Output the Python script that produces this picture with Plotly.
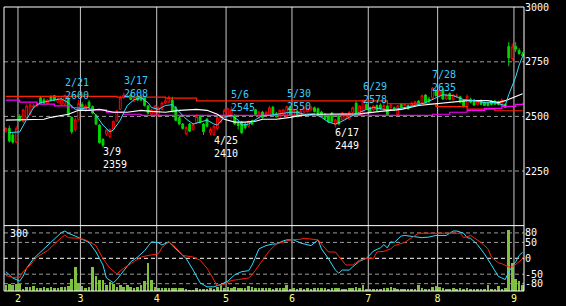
import plotly.graph_objects as go

# ---------------- data ----------------
day = list(range(150))

open_ = [2432,2445,2415,2382,2500,2478,2495,2510,2540,2548,
         2585,2575,2560,2592,2595,2565,2555,2556,2580,2495,
         2440,2485,2555,2530,2565,2545,2505,2460,2395,2420,
         2408,2442,2478,2532,2588,2592,2598,2570,2592,2590,
         2585,2548,2510,2505,2510,2532,2562,2565,2575,2540,
         2495,2465,2420,2465,2440,2470,2500,2465,2488,2425,
         2418,2445,2475,2500,2500,2510,2505,2470,2474,2465,
         2455,2480,2530,2495,2520,2505,2510,2542,2512,2490,
         2508,2500,2545,2505,2525,2505,2520,2522,2530,2540,
         2535,2520,2510,2500,2515,2462,2505,2485,2490,2488,
         2518,2560,2508,2512,2555,2540,2530,2550,2552,2535,
         2548,2540,2540,2508,2555,2550,2550,2550,2552,2570,
         2562,2598,2580,2585,2615,2595,2622,2580,2605,2578,
         2590,2590,2572,2545,2578,2575,2555,2572,2562,2562,
         2570,2570,2568,2550,2555,2820,2765,2820,2802,2785]

high = [2450,2458,2425,2455,2510,2535,2555,2560,2558,2565,
        2590,2585,2580,2596,2598,2585,2590,2600,2590,2500,
        2495,2575,2565,2555,2575,2550,2510,2465,2400,2445,
        2445,2480,2530,2595,2608,2605,2605,2595,2600,2598,
        2592,2552,2535,2552,2545,2568,2580,2595,2590,2548,
        2500,2470,2455,2470,2470,2510,2505,2470,2492,2450,
        2460,2500,2505,2535,2540,2545,2510,2475,2478,2470,
        2480,2485,2535,2525,2525,2525,2548,2548,2520,2532,
        2535,2550,2548,2535,2530,2530,2545,2540,2548,2545,
        2540,2525,2515,2505,2520,2490,2510,2520,2515,2525,
        2545,2570,2552,2578,2560,2545,2552,2555,2560,2562,
        2555,2560,2545,2552,2560,2560,2555,2568,2572,2575,
        2600,2602,2590,2635,2625,2628,2630,2605,2610,2602,
        2605,2595,2578,2600,2585,2580,2575,2578,2568,2566,
        2575,2575,2572,2582,2560,2840,2835,2840,2812,2795]

low = [2425,2380,2375,2378,2475,2470,2490,2505,2535,2545,
       2555,2555,2555,2570,2570,2560,2550,2550,2500,2420,
       2430,2480,2525,2520,2540,2510,2460,2375,2359,2410,
       2400,2438,2475,2530,2580,2585,2575,2565,2570,2570,
       2545,2510,2505,2500,2500,2528,2555,2560,2518,2478,
       2460,2440,2415,2428,2435,2465,2468,2415,2450,2415,
       2410,2435,2470,2495,2495,2490,2462,2440,2420,2440,
       2450,2460,2505,2490,2490,2500,2505,2505,2495,2485,
       2505,2495,2505,2500,2495,2500,2515,2518,2525,2518,
       2500,2500,2485,2470,2470,2449,2462,2480,2485,2485,
       2512,2508,2505,2508,2530,2515,2525,2525,2530,2530,
       2505,2535,2525,2505,2538,2545,2530,2545,2548,2555,
       2558,2560,2560,2580,2590,2590,2575,2575,2575,2572,
       2585,2560,2540,2540,2560,2548,2550,2552,2548,2545,
       2550,2552,2550,2545,2538,2730,2755,2795,2782,2772]

close = [2445,2388,2382,2445,2480,2530,2548,2552,2550,2556,
         2560,2562,2575,2572,2575,2580,2578,2596,2505,2430,
         2485,2560,2530,2548,2545,2515,2465,2380,2368,2438,
         2440,2478,2525,2585,2598,2595,2578,2590,2575,2575,
         2550,2515,2530,2548,2540,2562,2572,2588,2522,2482,
         2465,2445,2450,2432,2462,2500,2472,2430,2455,2440,
         2455,2495,2500,2528,2535,2530,2465,2458,2425,2448,
         2478,2465,2510,2520,2495,2518,2540,2508,2498,2528,
         2530,2545,2508,2530,2500,2525,2540,2535,2542,2522,
         2505,2505,2488,2475,2475,2485,2465,2515,2510,2518,
         2540,2512,2548,2572,2535,2520,2548,2528,2535,2550,
         2508,2552,2528,2548,2542,2556,2535,2562,2568,2558,
         2595,2565,2570,2630,2595,2620,2580,2598,2578,2598,
         2596,2565,2545,2592,2565,2552,2570,2555,2550,2550,
         2555,2556,2555,2575,2542,2768,2818,2808,2788,2778]

volume = [30,35,32,35,39,11,23,23,26,18,
          15,20,18,23,15,16,20,23,26,64,
          122,44,26,18,20,122,80,56,56,31,
          48,39,23,31,23,31,23,15,23,31,
          51,143,59,23,18,18,18,15,18,18,
          15,15,11,7,7,15,11,11,11,15,
          11,23,31,15,20,15,23,18,15,18,
          25,20,15,18,15,15,15,11,15,15,
          15,31,11,15,11,15,11,15,11,15,
          15,15,15,11,15,15,15,11,11,15,
          18,23,15,31,11,11,10,10,11,15,
          18,23,15,11,11,10,10,10,11,34,
          18,11,10,23,26,20,15,11,11,18,
          10,15,10,15,10,10,10,10,10,34,
          11,10,26,11,15,310,143,64,53,30]

# moving averages
ma5_day = [1,4,6,8,10,13,15,16,18,20,22,24,26,28,30,31,33,35,37,39,41,42,44,46,48,50,52,54,56,58,
           60,61,63,65,67,68,70,72,74,76,78,80,82,84,86,89,91,93,95,97,99,102,104,106,109,112,115,118,121,124,
           126,129,132,135,138,141,144,145,146,147,148,149]
ma5_val = [2426,2429,2487,2541,2563,2572,2577,2581,2563,2532,2536,2541,2505,2460,2429,2438,2483,2550,2577,2586,
           2563,2541,2532,2550,2554,2519,2488,2465,2474,2483,2465,2460,2497,2505,2483,2460,2465,2487,2505,2505,
           2510,2512,2519,2519,2510,2512,2496,2474,2465,2478,2496,2519,2532,2541,2532,2532,2541,2550,2563,2586,
           2599,2595,2577,2572,2563,2563,2550,2600,2640,2680,2735,2775]

ma25_day = [0,3,6,11,13,16,18,21,24,27,31,35,39,42,46,50,53,55,58,61,63,66,69,72,74,78,82,85,89,97,
            102,108,114,119,125,129,133,139,142,144,146,149]
ma25_val = [2483,2485,2487,2487,2496,2505,2510,2528,2528,2532,2519,2519,2528,2523,2519,2528,2532,2532,2528,2510,
            2487,2474,2474,2478,2487,2487,2496,2505,2510,2510,2512,2523,2532,2550,2559,2568,2572,2572,2563,2572,
            2586,2604]

mag_day = [0,4,9,14,19,24,29,34,39,123,128,133,138,143,147,149]
mag_val = [2575,2565,2556,2548,2540,2530,2520,2510,2505,2510,2519,2528,2537,2546,2555,2560]

redma_day = [0,32,46,55,110,124,133,141,149]
redma_val = [2592,2588,2584,2571,2558,2545,2533,2526,2526]

# oscillator lines (lower panel)
oc_day = [0,2,4,5,6,8,11,13,15,16,17,18,20,22,24,26,28,29,31,32,34,36,38,40,42,44,45,47,48,50,
          52,54,56,58,60,62,64,66,68,70,71,73,75,77,78,80,81,83,85,88,90,91,93,95,96,97,99,100,102,104,
          106,108,109,110,111,112,114,115,117,120,122,124,127,129,130,132,133,134,136,138,140,142,143,144,145,
          147,148,149]
oc_val = [-42,-62,-72,-56,-31,-1,30,51,70,81,86,79,70,59,50,20,-21,-62,-77,-67,-37,-11,4,24,52,49,42,52,40,20,
          -1,-37,-77,-90,-90,-82,-72,-52,-42,-39,-21,30,40,45,45,55,58,58,48,40,58,30,-1,-37,-47,-37,-37,-27,-9,0,
          23,33,43,33,52,50,70,72,70,65,67,72,72,86,86,79,65,63,43,14,-21,-57,-62,-67,-42,-11,9,19]

or_day = [0,2,4,5,7,9,12,14,16,17,18,21,23,26,28,30,32,34,37,39,41,44,45,47,49,51,54,56,58,60,
          61,63,65,67,70,71,74,76,78,80,82,85,86,90,93,95,97,98,100,102,104,106,107,109,111,112,115,117,119,122,
          127,129,131,132,134,137,139,140,142,143,145,146,148,149]
or_val = [-54,-60,-60,-42,-21,4,24,45,65,73,65,63,58,40,-1,-31,-49,-31,-11,4,9,14,34,52,34,9,4,-6,-31,-67,
          -87,-82,-70,-67,-62,-52,-6,24,45,52,58,60,63,58,20,20,-6,-21,-21,-6,0,0,20,22,30,40,50,65,79,79,
          80,79,79,65,72,50,30,4,-14,-17,-27,-27,-11,0]

month_start = [4, 22, 44, 64, 83, 105, 125, 147]
month_label = ["2", "3", "4", "5", "6", "7", "8", "9"]

hi_day = [17, 34, 65, 81, 103, 123]
hi_date = ["2/21", "3/17", "5/6", "5/30", "6/29", "7/28"]
hi_price = [2600, 2608, 2545, 2550, 2578, 2635]

lo_day = [28, 60, 95]
lo_date = ["3/9", "4/25", "6/17"]
lo_price = [2359, 2410, 2449]

price_ticks = [2250, 2500, 2750, 3000]
osc_ticks = [80, 50, 0, -50, -80]
vol_label = "300"

# ---------------- figure ----------------
MONO = "DejaVu Sans Mono"
split = 67 / 291

fig = go.Figure()

fig.add_trace(go.Bar(x=day, y=volume, marker=dict(color="#80c040", line=dict(width=0)),
                     width=0.75, xaxis="x", yaxis="y2", hoverinfo="skip"))
fig.add_trace(go.Scatter(x=oc_day, y=oc_val, mode="lines", line=dict(color="#33ddff", width=1),
                         xaxis="x", yaxis="y3", hoverinfo="skip"))
fig.add_trace(go.Scatter(x=or_day, y=or_val, mode="lines", line=dict(color="#ff2200", width=1),
                         xaxis="x", yaxis="y3", hoverinfo="skip"))

fig.add_trace(go.Candlestick(x=day, open=open_, high=high, low=low, close=close,
                             increasing=dict(line=dict(color="#ff0000", width=1), fillcolor="#000000"),
                             decreasing=dict(line=dict(color="#00d800", width=1), fillcolor="#00d800"),
                             whiskerwidth=0, xaxis="x", yaxis="y", hoverinfo="skip"))

fig.add_trace(go.Scatter(x=redma_day, y=redma_val, mode="lines", line=dict(color="#ff2200", width=1.2, shape="hv"),
                         xaxis="x", yaxis="y", hoverinfo="skip"))
fig.add_trace(go.Scatter(x=mag_day, y=mag_val, mode="lines", line=dict(color="#ff00ff", width=1.2, shape="hv"),
                         xaxis="x", yaxis="y", hoverinfo="skip"))
fig.add_trace(go.Scatter(x=ma25_day, y=ma25_val, mode="lines", line=dict(color="#ffffff", width=1.2),
                         xaxis="x", yaxis="y", hoverinfo="skip"))
fig.add_trace(go.Scatter(x=ma5_day, y=ma5_val, mode="lines", line=dict(color="#33ddff", width=1),
                         xaxis="x", yaxis="y", hoverinfo="skip"))

shapes = []
for m in month_start:
    shapes.append(dict(type="line", xref="x", yref="paper", x0=m - 0.5, x1=m - 0.5, y0=0, y1=1,
                       line=dict(color="#c8c8c8", width=1), layer="below"))
for p in price_ticks[:-1]:
    shapes.append(dict(type="line", xref="paper", yref="y", x0=0, x1=1, y0=p, y1=p,
                       line=dict(color="#9a9a9a", width=1, dash="4px,3px"), layer="below"))
for v in osc_ticks:
    shapes.append(dict(type="line", xref="paper", yref="y3", x0=0, x1=1, y0=v, y1=v,
                       line=dict(color="#ffffff" if v == 0 else "#9a9a9a", width=1, dash="4px,3px"),
                       layer="below"))
shapes.append(dict(type="rect", xref="paper", yref="paper", x0=0, x1=1, y0=0, y1=1,
                   line=dict(color="#ffffff", width=1)))
shapes.append(dict(type="line", xref="paper", yref="paper", x0=0, x1=1, y0=split, y1=split,
                   line=dict(color="#ffffff", width=1)))

ann = []
for d, t, p in zip(hi_day, hi_date, hi_price):
    ann.append(dict(x=d, y=p, xref="x", yref="y", text=t + "<br>" + str(p), showarrow=False,
                    xanchor="left", yanchor="middle", align="left", xshift=-2, yshift=6,
                    font=dict(family=MONO, size=10, color="#33ccff")))
for d, t, p in zip(lo_day, lo_date, lo_price):
    ann.append(dict(x=d, y=p, xref="x", yref="y", text=t + "<br>" + str(p), showarrow=False,
                    xanchor="left", yanchor="middle", align="left", xshift=-2, yshift=-11,
                    font=dict(family=MONO, size=10, color="#ffffff")))
ann.append(dict(x=0, y=split, xref="paper", yref="paper", text=vol_label, showarrow=False, xanchor="left",
                yanchor="top", xshift=4, yshift=0, font=dict(family=MONO, size=10, color="#ffffff")))

fig.update_layout(
    width=566, height=306,
    margin=dict(l=4, r=42, t=2, b=13, pad=0),
    paper_bgcolor="#000000", plot_bgcolor="#000000",
    showlegend=False, boxgap=0.25, bargap=0,
    shapes=shapes, annotations=ann,
    xaxis=dict(domain=[0, 1], anchor="y2", range=[-0.53, 149.4],
               tickmode="array", tickvals=[m - 0.5 for m in month_start], ticktext=month_label,
               tickfont=dict(family=MONO, size=10, color="#ffff88"), ticks="",
               showgrid=False, zeroline=False, showline=False, rangeslider=dict(visible=False)),
    yaxis=dict(domain=[split, 1], range=[2000, 3001], side="right", anchor="x",
               tickmode="array", tickvals=price_ticks, ticktext=[str(p) for p in price_ticks],
               tickfont=dict(family=MONO, size=10, color="#ffffff"), ticks="",
               ticklabeloverflow="allow",
               showgrid=False, zeroline=False, showline=False),
    yaxis2=dict(domain=[0, split], range=[0, 330], visible=False, anchor="x"),
    yaxis3=dict(overlaying="y2", range=[-103, 103], side="right", anchor="x",
                tickmode="array", tickvals=osc_ticks, ticktext=[str(v) for v in osc_ticks],
                tickfont=dict(family=MONO, size=10, color="#ffffff"), ticks="",
                ticklabeloverflow="allow",
                showgrid=False, zeroline=False, showline=False),
)

fig.write_html("out.html")
